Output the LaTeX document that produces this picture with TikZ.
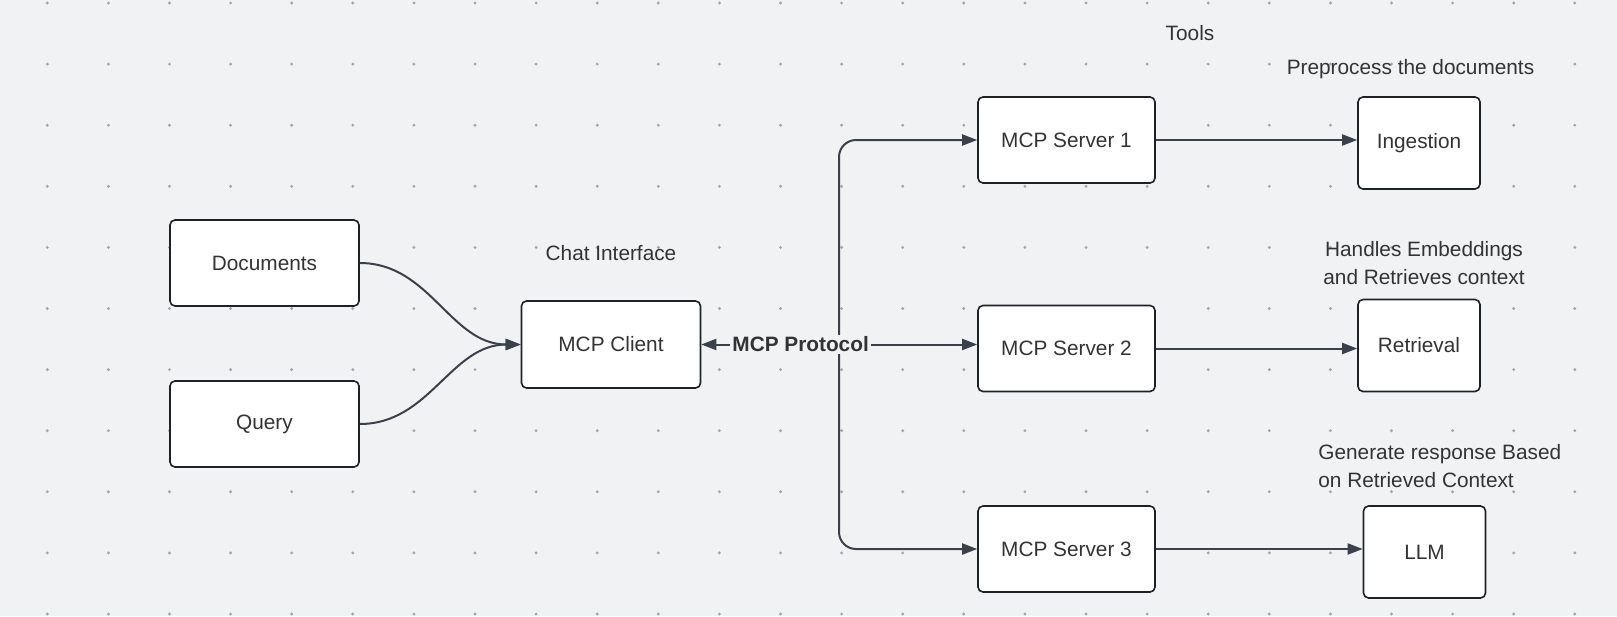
\documentclass[tikz,border=0pt]{standalone}
\usepackage{fontspec}
\setmainfont{Liberation Sans}
\usetikzlibrary{arrows.meta, positioning}
\definecolor{canvas}{HTML}{F1F2F4}
\definecolor{dotgray}{HTML}{A3A5AB}
\definecolor{linegray}{HTML}{3B414A}
\definecolor{boxline}{HTML}{1E2227}
\definecolor{inkgray}{HTML}{333333}

\begin{document}
\begin{tikzpicture}[x=0.5pt, y=-0.5pt, font=\fontsize{10.4}{14.3}\selectfont, text=inkgray,
  >={Triangle[length=7.5pt, width=5.5pt]},
  box/.style={draw=boxline, line width=0.8pt, fill=white, rounded corners=2.5pt,
    minimum width=88.5pt, minimum height=43pt},
  toolbox/.style={box, minimum width=61pt, minimum height=46pt},
  link/.style={draw=linegray, line width=1pt, ->},
  note/.style={align=center, inner sep=0pt},
  proto/.style={fill=canvas, inner sep=1pt, font=\fontsize{10.4}{14.3}\selectfont\bfseries}]

  % Background and dot grid
  \fill[canvas] (0,0) rectangle (1617,616);
  \useasboundingbox (0,0) rectangle (1617,616);
  \foreach \i in {0,...,26} {
    \foreach \j in {0,...,10} {
      \fill[dotgray] (47.3+61.1*\i, 3+61.1*\j) circle[radius=0.8pt];
    }
  }

  % Inputs
  \node[box, minimum width=94.5pt] (docs) at (264.5,263) {Documents};
  \node[box, minimum width=94.5pt] (query) at (264.5,424) {Query};

  % Client
  \node[note] (chat) at (611,253) {Chat Interface};
  \node[box, minimum width=89.5pt, minimum height=43.5pt] (client) at (611,344.5) {MCP Client};

  % Servers
  \node[box] (s1) at (1066.5,140) {MCP Server 1};
  \node[box] (s2) at (1066.5,348.5) {MCP Server 2};
  \node[box] (s3) at (1066.5,549) {MCP Server 3};

  % Tools
  \node[note] (tools) at (1190,33) {Tools};
  \node[toolbox] (ing) at (1419,143) {Ingestion};
  \node[toolbox] (ret) at (1419,345.5) {Retrieval};
  \node[toolbox] (llm) at (1424.5,552) {LLM};

  % Tool notes
  \node[note] (ingnote) at (1410.5,69) {Preprocess the documents};
  \node[note] (retnote) at (1424,263) {Handles Embeddings\\and Retrieves context};
  \node[note, align=left, anchor=west] (llmnote) at (1318,466) {Generate response Based\\on Retrieved Context};

  % Inputs to client
  \draw[link] (docs.east) to[out=0, in=180] (client.west);
  \draw[link] (query.east) to[out=0, in=180] (client.west);

  % Client to servers
  \coordinate (hub) at (839,344.5);
  \draw[link, rounded corners=8.5pt] (hub) |- (s1.west);
  \draw[link, rounded corners=8.5pt] (hub) |- (s3.west);
  \draw[link, <->] (client.east) -- node[proto, pos=0.36] {MCP Protocol} (client.east -| s2.west);

  % Servers to tools
  \draw[link] (s1.east) -- (s1.east -| ing.west);
  \draw[link] (s2.east) -- (s2.east -| ret.west);
  \draw[link] (s3.east) -- (s3.east -| llm.west);
\end{tikzpicture}
\end{document}
